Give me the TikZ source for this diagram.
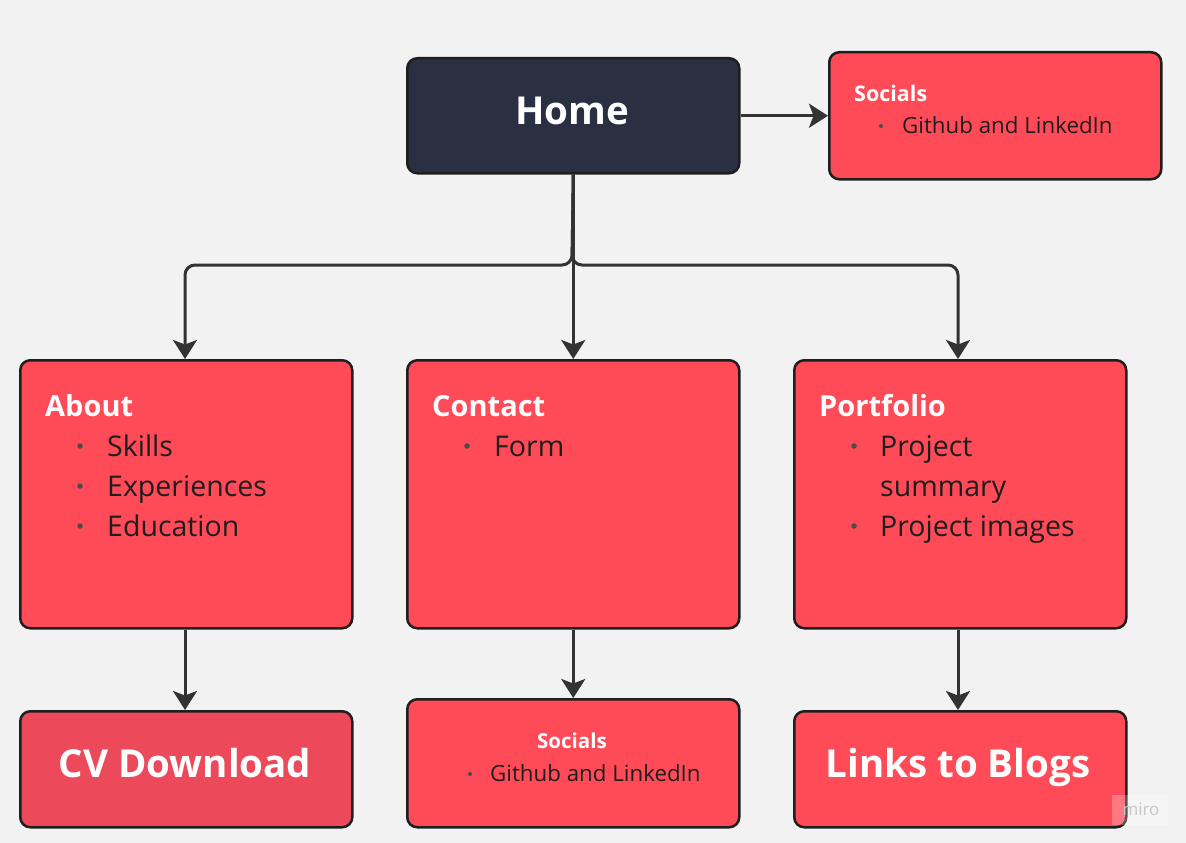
\documentclass[tikz,border=0pt]{standalone}
\usepackage{fontspec}
\setmainfont{Open Sans}
\usetikzlibrary{arrows.meta}
\definecolor{bg}{HTML}{F2F2F2}
\definecolor{boxred}{HTML}{FF4A57}
\definecolor{cvred}{HTML}{EC4A5B}
\definecolor{navy}{HTML}{2B2F42}
\definecolor{edge}{HTML}{1E1E1E}
\definecolor{conn}{HTML}{333333}
\definecolor{ink}{HTML}{1E1E1E}
\tikzset{
  card/.style={draw=edge, line width=2.5pt, rounded corners=10pt, fill=boxred, anchor=north west, inner sep=0pt},
  connector/.style={draw=conn, line width=3pt, rounded corners=10pt, -{Stealth[length=19pt,width=24pt,inset=4.5pt]}},
  ttl/.style={font=\bfseries\fontsize{29}{33}\selectfont, text=white, anchor=base west, inner sep=0pt},
  itm/.style={font=\fontsize{28.5}{33}\selectfont, text=ink, anchor=base west, inner sep=0pt},
  smttl/.style={font=\bfseries\fontsize{21.5}{25}\selectfont, text=white, inner sep=0pt},
  smitm/.style={font=\fontsize{22.3}{26}\selectfont, text=ink, anchor=base west, inner sep=0pt},
  bigttl/.style={font=\bfseries\fontsize{38.5}{42}\selectfont, text=white, anchor=base, inner sep=0pt},
  dot/.style={circle, fill=ink!80, inner sep=0pt, minimum size=5.5pt},
}
\begin{document}
\begin{tikzpicture}[x=1pt,y=-1pt]
\fill[bg] (0,0) rectangle (1186,843);
\useasboundingbox (0,0) rectangle (1186,843);

% boxes
\node[card, fill=navy, minimum width=332pt, minimum height=115pt] (home) at (406,57) {};
\node[card, minimum width=332pt, minimum height=127pt] (soc1) at (828,51) {};
\node[card, minimum width=332pt, minimum height=268pt] (about) at (19,359) {};
\node[card, minimum width=332pt, minimum height=268pt] (contact) at (406,359) {};
\node[card, minimum width=332pt, minimum height=268pt] (portfolio) at (793,359) {};
\node[card, fill=cvred, minimum width=332pt, minimum height=116pt] (cv) at (19,710) {};
\node[card, minimum width=332pt, minimum height=128pt] (soc2) at (406,698) {};
\node[card, minimum width=332pt, minimum height=116pt] (blogs) at (793,710) {};

% texts
\node[bigttl] (hometxt) at (572,124) {Home};

\node[smttl, anchor=base west] (soc1t) at (854,101) {Socials};
\node[dot, minimum size=4pt] (soc1d) at (881,126) {};
\node[smitm] (soc1i) at (902,133) {Github and LinkedIn};

\node[ttl] (aboutt) at (45,416) {About};
\node[dot] (ab1) at (80,446) {};
\node[itm] (ab1t) at (107,456) {Skills};
\node[dot] (ab2) at (80,486) {};
\node[itm] (ab2t) at (107,496) {Experiences};
\node[dot] (ab3) at (80,526) {};
\node[itm] (ab3t) at (107,536) {Education};

\node[ttl] (contactt) at (432,416) {Contact};
\node[dot] (co1) at (467,446) {};
\node[itm] (co1t) at (494,456) {Form};

\node[ttl] (portt) at (819,416) {Portfolio};
\node[dot] (po1) at (854,446) {};
\node[itm] (po1t) at (880,456) {Project};
\node[itm] (po1u) at (880,496) {summary};
\node[dot] (po2) at (854,526) {};
\node[itm] (po2t) at (880,536) {Project images};

\node[bigttl] (cvt) at (185,777) {CV Download};
\node[smttl, anchor=base, font=\bfseries\fontsize{20.5}{24}\selectfont] (soc2t) at (572,748) {Socials};
\node[dot, minimum size=4pt] (soc2d) at (470,774) {};
\node[smitm] (soc2i) at (490,781) {Github and LinkedIn};
\node[bigttl] (blogst) at (958,777) {Links to Blogs};

% watermark
\fill[white, opacity=0.25] (1112,795) rectangle (1168,825);
\node[font=\fontsize{17}{20}\selectfont, text=black!22, inner sep=0pt] (miro) at (1141,809) {miro};

% connectors
\coordinate (jn) at (572,265);
\draw[connector] (home.east) -- (soc1.west |- home.east);
\draw[connector] (home.south) -- (jn) -| (about.north -| 185,0);
\draw[connector] (home.south) -- (contact.north);
\draw[connector] (home.south) -- (jn) -| (portfolio.north -| 958,0);
\draw[connector] (about.south -| 185,0) -- (cv.north -| 185,0);
\draw[connector] (contact.south) -- (soc2.north);
\draw[connector] (portfolio.south -| 958,0) -- (blogs.north -| 958,0);
\end{tikzpicture}
\end{document}
